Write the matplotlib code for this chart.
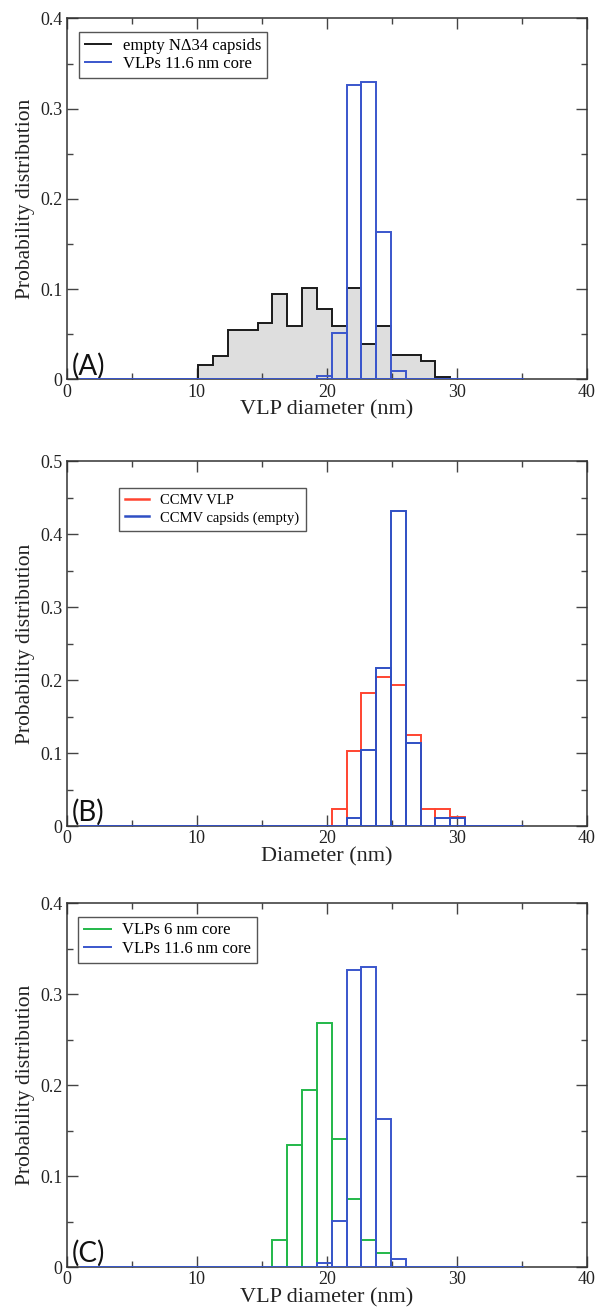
import numpy as np
import matplotlib
matplotlib.use("Agg")
import matplotlib.pyplot as plt
from matplotlib.lines import Line2D
from matplotlib.ticker import MultipleLocator, FormatStrFormatter

plt.rcParams['font.family'] = ['Liberation Serif', 'DejaVu Serif']

# histogram bins: 30 bins from 1 nm, ~1.14 nm wide
bin_width = 1.14
edges = 1.0 + bin_width * np.arange(31)

# panel A
empty_nd34 = [0, 0, 0, 0, 0, 0, 0, 0,
              0.016, 0.026, 0.055, 0.055, 0.063, 0.095, 0.059, 0.101,
              0.078, 0.059, 0.101, 0.039, 0.059, 0.027, 0.027, 0.020,
              0.003, 0, 0, 0, 0, 0]
vlp_11_6 = [0, 0, 0, 0, 0, 0, 0, 0,
            0, 0, 0, 0, 0, 0, 0, 0,
            0.004, 0.051, 0.326, 0.330, 0.163, 0.009, 0, 0,
            0, 0, 0, 0, 0, 0]

# panel B
ccmv_vlp = [0, 0, 0, 0, 0, 0, 0, 0,
            0, 0, 0, 0, 0, 0, 0, 0,
            0, 0.023, 0.103, 0.182, 0.204, 0.193, 0.125, 0.023,
            0.023, 0.012, 0, 0, 0, 0]
ccmv_empty = [0, 0, 0, 0, 0, 0, 0, 0,
              0, 0, 0, 0, 0, 0, 0, 0,
              0, 0, 0.011, 0.104, 0.216, 0.432, 0.114, 0,
              0.011, 0.011, 0, 0, 0, 0]

# panel C
vlp_6 = [0, 0, 0, 0, 0, 0, 0, 0,
         0, 0, 0, 0, 0, 0.030, 0.134, 0.194,
         0.268, 0.141, 0.075, 0.030, 0.015, 0, 0, 0,
         0, 0, 0, 0, 0, 0]

BLACK = '#1a1a1a'
BLUE = '#3a56cc'
BLUE_B = '#2f4fc4'
RED = '#ff4430'
GREEN = '#22b84a'
GRAY = '#dedede'


def style_axes(ax, ymax, xlabel):
    ax.set_xlim(0, 40)
    ax.set_ylim(0, ymax)
    ax.xaxis.set_major_locator(MultipleLocator(10))
    ax.xaxis.set_minor_locator(MultipleLocator(5))
    ax.yaxis.set_major_locator(MultipleLocator(0.1))
    ax.yaxis.set_minor_locator(MultipleLocator(0.05))
    ax.yaxis.set_major_formatter(FormatStrFormatter('%g'))
    ax.xaxis.set_major_formatter(FormatStrFormatter('%g'))
    ax.tick_params(which='both', direction='in', top=True, right=True,
                   colors='#444444', labelcolor='#222222')
    ax.tick_params(which='major', length=8, width=1, labelsize=13, pad=3)
    ax.tick_params(which='minor', length=4, width=1)
    for s in ax.spines.values():
        s.set_color('#333333')
        s.set_linewidth(1.1)
    ax.set_xlabel(xlabel, fontsize=16, labelpad=0, color='#222222')
    ax.set_ylabel('Probability distribution', fontsize=15.5, labelpad=4,
                  color='#222222')


def bars(ax, vals, color, z):
    ax.bar(edges[:-1], vals, width=bin_width, align='edge', fill=False,
           edgecolor=color, linewidth=1.4, zorder=z)


def panel_label(ax, text):
    ax.text(0.4, 0.0, text, fontsize=20, family=['Lato', 'DejaVu Sans'],
            va='bottom', ha='left', color='#111111',
            transform=ax.get_xaxis_transform())


fig = plt.figure(figsize=(5.96, 13.07), dpi=100)
left, width = 0.112, 0.8725

# (A)
axA = fig.add_axes([left, 0.7097, width, 0.2762])
axA.stairs(empty_nd34, edges, fill=True, color=GRAY, zorder=1)
axA.stairs(empty_nd34, edges, color=BLACK, linewidth=1.4, zorder=3)
bars(axA, vlp_11_6, BLUE, 4)
style_axes(axA, 0.4, 'VLP diameter (nm)')
panel_label(axA, '(A)')
axA.legend(handles=[Line2D([], [], color=BLACK, lw=1.4),
                    Line2D([], [], color=BLUE, lw=1.4)],
           labels=['empty N\u039434 capsids', 'VLPs 11.6 nm core'],
           loc='upper left', bbox_to_anchor=(0.023, 0.963),
           borderaxespad=0, fontsize=12, fancybox=False, framealpha=1,
           edgecolor='#555555', handlelength=1.6, labelspacing=0.15,
           borderpad=0.35, handletextpad=0.7)

# (B)
axB = fig.add_axes([left, 0.368, width, 0.279])
bars(axB, ccmv_vlp, RED, 3)
bars(axB, ccmv_empty, BLUE_B, 4)
style_axes(axB, 0.5, 'Diameter (nm)')
panel_label(axB, '(B)')
axB.legend(handles=[Line2D([], [], color=RED, lw=1.8),
                    Line2D([], [], color=BLUE_B, lw=1.8)],
           labels=['CCMV VLP', 'CCMV capsids (empty)'],
           loc='upper left', bbox_to_anchor=(0.1, 0.928),
           borderaxespad=0, fontsize=10.5, fancybox=False, framealpha=1,
           edgecolor='#555555', handlelength=1.6, labelspacing=0.25,
           borderpad=0.45, handletextpad=0.8)

# (C)
axC = fig.add_axes([left, 0.0306, width, 0.2785])
bars(axC, vlp_6, GREEN, 3)
bars(axC, vlp_11_6, BLUE, 4)
style_axes(axC, 0.4, 'VLP diameter (nm)')
panel_label(axC, '(C)')
axC.legend(handles=[Line2D([], [], color=GREEN, lw=1.4),
                    Line2D([], [], color=BLUE, lw=1.4)],
           labels=['VLPs 6 nm core', 'VLPs 11.6 nm core'],
           loc='upper left', bbox_to_anchor=(0.022, 0.9625),
           borderaxespad=0, fontsize=12, fancybox=False, framealpha=1,
           edgecolor='#555555', handlelength=1.6, labelspacing=0.15,
           borderpad=0.35, handletextpad=0.7)

fig.savefig('out.png', dpi=100)
